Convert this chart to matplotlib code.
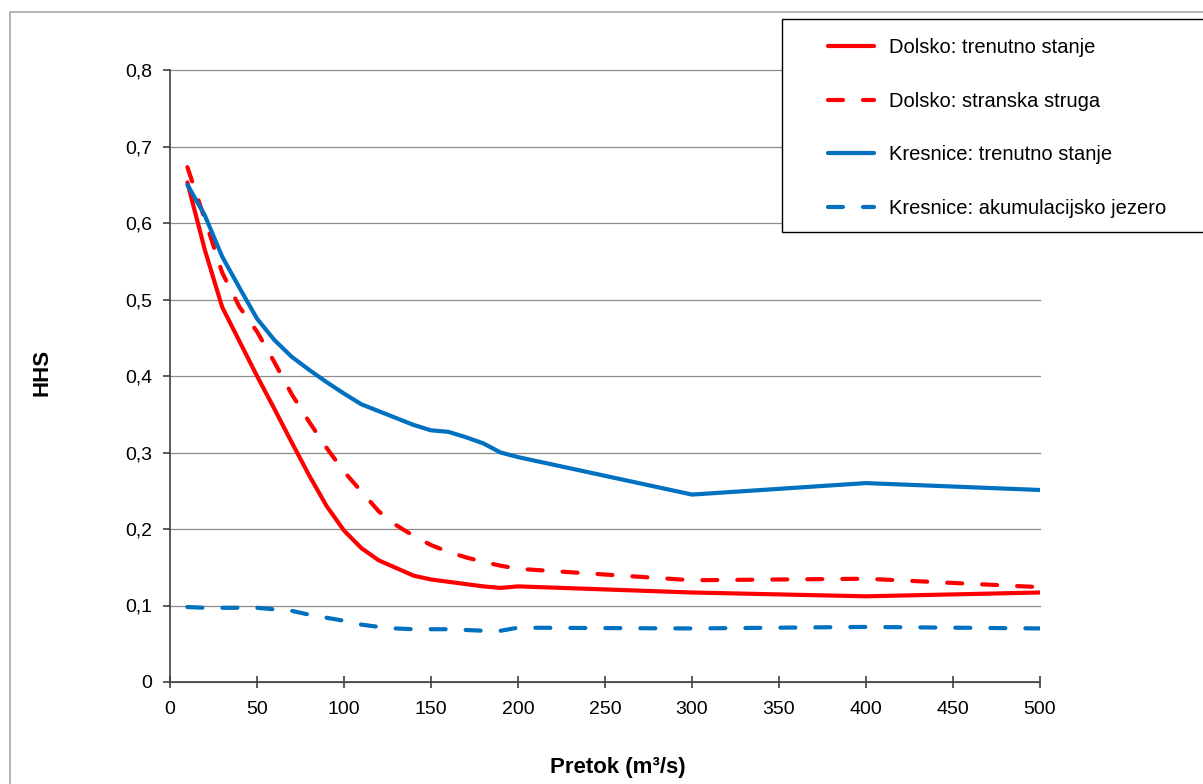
import matplotlib
matplotlib.use("Agg")
import matplotlib.pyplot as plt
import matplotlib.patches as mpatches
from matplotlib.ticker import FuncFormatter

plt.rcParams["font.family"] = ["Liberation Sans", "DejaVu Sans"]

# flow values (m3/s)
pretok = [10, 20, 30, 40, 50, 60, 70, 80, 90, 100, 110, 120, 130, 140, 150,
          160, 170, 180, 190, 200, 300, 400, 500]

dolsko_trenutno = [0.653, 0.565, 0.490, 0.445, 0.400, 0.357, 0.313, 0.270, 0.230,
                   0.198, 0.175, 0.159, 0.149, 0.139, 0.134, 0.131, 0.128, 0.125,
                   0.123, 0.125, 0.117, 0.112, 0.117]
dolsko_stranska = [0.673, 0.605, 0.535, 0.490, 0.458, 0.418, 0.376, 0.340, 0.306,
                   0.275, 0.249, 0.223, 0.205, 0.191, 0.179, 0.170, 0.163, 0.157,
                   0.152, 0.148, 0.133, 0.135, 0.124]
kresnice_trenutno = [0.650, 0.610, 0.556, 0.515, 0.475, 0.447, 0.425, 0.408, 0.392,
                     0.377, 0.363, 0.354, 0.345, 0.336, 0.329, 0.327, 0.320, 0.312,
                     0.300, 0.294, 0.245, 0.260, 0.251]
kresnice_akum = [0.098, 0.097, 0.097, 0.097, 0.097, 0.095, 0.093, 0.088, 0.084,
                 0.080, 0.075, 0.072, 0.070, 0.069, 0.069, 0.069, 0.068, 0.067,
                 0.067, 0.071, 0.070, 0.072, 0.070]

labels = ["Dolsko: trenutno stanje", "Dolsko: stranska struga",
          "Kresnice: trenutno stanje", "Kresnice: akumulacijsko jezero"]

RED = "#FF0000"
BLUE = "#0070C0"
DASH = (3.6, 4.8)

W, H = 1203, 784
fig = plt.figure(figsize=(W / 100, H / 100), dpi=100)

# outer chart frame (Excel chart area), runs off right and bottom edges
fig.add_artist(mpatches.Rectangle((10 / W, -0.1), 1.2, 1.1 - 12 / H,
                                  transform=fig.transFigure, fill=False,
                                  edgecolor="#A6A6A6", linewidth=1.2))

ax = fig.add_axes([170 / W, 1 - 682 / H, 870 / W, 612 / H])

series = [
    (dolsko_trenutno, RED, "-"),
    (dolsko_stranska, RED, "--"),
    (kresnice_trenutno, BLUE, "-"),
    (kresnice_akum, BLUE, "--"),
]
handles = []
for vals, col, ls in series:
    ln, = ax.plot(pretok, vals, color=col, linewidth=3.0, linestyle=ls,
                  solid_joinstyle="round", solid_capstyle="round",
                  dash_capstyle="round")
    if ls == "--":
        ln.set_dashes(DASH)
    handles.append(ln)

ax.set_xlim(0, 500)
ax.set_ylim(0, 0.8)
ax.set_xticks(range(0, 501, 50))
ax.set_yticks([i / 10 for i in range(9)])
ax.yaxis.set_major_formatter(FuncFormatter(lambda v, p: f"{v:.1f}".replace(".", ",") if v > 0 else "0"))

ax.grid(axis="y", color="#8C8C8C", linewidth=0.9)
ax.set_axisbelow(True)
for gl in ax.get_ygridlines():
    gl.set_clip_on(False)

for s in ("top", "right"):
    ax.spines[s].set_visible(False)
for s in ("left", "bottom"):
    ax.spines[s].set_color("#404040")
    ax.spines[s].set_linewidth(1.2)

ax.tick_params(axis="y", direction="out", length=5, width=1.2, color="#404040",
               labelsize=14, pad=8)
ax.tick_params(axis="x", direction="inout", length=8, width=1.2, color="#404040",
               labelsize=14, pad=10)

fig.text(618 / W, 1 - 767 / H, "Pretok (m³/s)", ha="center", va="center",
         fontsize=16, fontweight="bold")
fig.text(42 / W, 1 - 372 / H, "HHS", ha="center", va="center", rotation=90,
         fontsize=16, fontweight="bold")

# legend frame runs off the right edge like in the original
fig.add_artist(mpatches.Rectangle((782 / W, 1 - 232 / H), 0.5, 213 / H,
                                  transform=fig.transFigure, facecolor="white",
                                  edgecolor="black", linewidth=1.0, zorder=5))
leg = fig.legend(handles, labels, loc="upper left",
                 bbox_to_anchor=(828 / W, 1 - 38 / H), frameon=False,
                 fontsize=14.5, handlelength=2.3, handletextpad=0.75,
                 labelspacing=1.72, borderpad=0, borderaxespad=0)
leg.set_zorder(6)

fig.savefig("out.png", dpi=100)
